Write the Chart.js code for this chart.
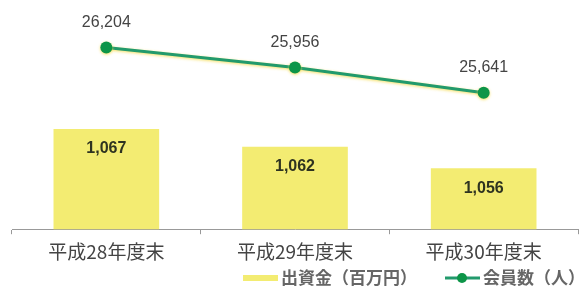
<!DOCTYPE html>
<html>
<head>
<meta charset="utf-8">
<script src="https://cdn.jsdelivr.net/npm/chart.js@4"></script>
<style>
html,body{margin:0;padding:0;background:#fff;}
#wrap{width:585px;height:292px;position:relative;}
</style>
</head>
<body>
<div id="wrap"><canvas id="c" width="585" height="292"></canvas></div>
<script>
const categories = ["平成28年度末", "平成29年度末", "平成30年度末"];
const capitalValues = [1067, 1062, 1056];      // 出資金（百万円）
const memberValues = [26204, 25956, 25641];    // 会員数（人）
const seriesNames = ["出資金（百万円）", "会員数（人）"];

const BAR_COLOR = "#f3ec72";
const LINE_COLOR = "#229a6c";
const POINT_COLOR = "#0d9548";
const CJK = "'Noto Sans CJK JP', 'Noto Sans', sans-serif";
const NUM = "'Liberation Sans', Arial, sans-serif";

const fmt = v => v.toLocaleString("en-US");

const labelPlugin = {
  id: "labels",
  beforeDatasetDraw(chart, args) {
    if (args.index === 1) {
      const ctx = chart.ctx;
      ctx.save();
      ctx.shadowColor = "rgba(245,220,80,0.9)";
      ctx.shadowBlur = 3;
      ctx.shadowOffsetY = 1;
    }
  },
  afterDatasetDraw(chart, args) {
    if (args.index === 1) chart.ctx.restore();
  },
  afterDatasetsDraw(chart) {
    const ctx = chart.ctx;
    ctx.save();
    ctx.textAlign = "center";
    ctx.textBaseline = "middle";
    const barMeta = chart.getDatasetMeta(0);
    ctx.font = "bold 16px " + NUM;
    ctx.fillStyle = "#2e3320";
    barMeta.data.forEach((el, i) => {
      ctx.fillText(fmt(capitalValues[i]), el.x, el.y + 20);
    });
    const lineMeta = chart.getDatasetMeta(1);
    ctx.font = "16px " + NUM;
    ctx.fillStyle = "#444";
    lineMeta.data.forEach((el, i) => {
      ctx.fillText(fmt(memberValues[i]), el.x, el.y - 25);
    });
    ctx.restore();
  },
  afterDraw(chart) {
    const ctx = chart.ctx;
    ctx.save();
    const y = 278;
    ctx.font = "bold 17px " + CJK;
    ctx.textBaseline = "middle";
    ctx.textAlign = "left";
    ctx.fillStyle = BAR_COLOR;
    ctx.fillRect(243, y - 3, 35, 6);
    ctx.fillStyle = "#666";
    ctx.fillText(seriesNames[0], 281, y);
    ctx.strokeStyle = LINE_COLOR;
    ctx.lineWidth = 3;
    ctx.beginPath();
    ctx.moveTo(445, y);
    ctx.lineTo(480, y);
    ctx.stroke();
    ctx.fillStyle = POINT_COLOR;
    ctx.beginPath();
    ctx.arc(462, y, 5, 0, Math.PI * 2);
    ctx.fill();
    ctx.fillStyle = "#666";
    ctx.fillText(seriesNames[1], 483, y);
    ctx.restore();
  }
};

new Chart(document.getElementById("c"), {
  data: {
    labels: categories,
    datasets: [
      {
        type: "bar",
        label: seriesNames[0],
        data: capitalValues,
        backgroundColor: BAR_COLOR,
        borderWidth: 0,
        yAxisID: "yBar",
        categoryPercentage: 1,
        barPercentage: 0.56,
        order: 2
      },
      {
        type: "line",
        label: seriesNames[1],
        data: memberValues,
        borderColor: LINE_COLOR,
        borderWidth: 3,
        pointBackgroundColor: POINT_COLOR,
        pointBorderColor: POINT_COLOR,
        pointRadius: 6,
        pointBorderWidth: 0,
        tension: 0,
        yAxisID: "yLine",
        order: 1
      }
    ]
  },
  options: {
    responsive: false,
    animation: false,
    layout: { autoPadding: false, padding: { left: 12, right: 7, top: 0, bottom: 23 } },
    plugins: { legend: { display: false }, tooltip: { enabled: false } },
    scales: {
      x: {
        offset: true,
        grid: { display: true, drawOnChartArea: false, offset: true, tickLength: 5, color: "#999" },
        border: { display: true, color: "#999", width: 1 },
        ticks: { font: { family: CJK, size: 19 }, color: "#444", padding: 6 }
      },
      yBar: { display: false, min: 1039, max: 1103 },
      yLine: { display: false, min: 23951, max: 26792 }
    }
  },
  plugins: [labelPlugin]
});
</script>
</body>
</html>
